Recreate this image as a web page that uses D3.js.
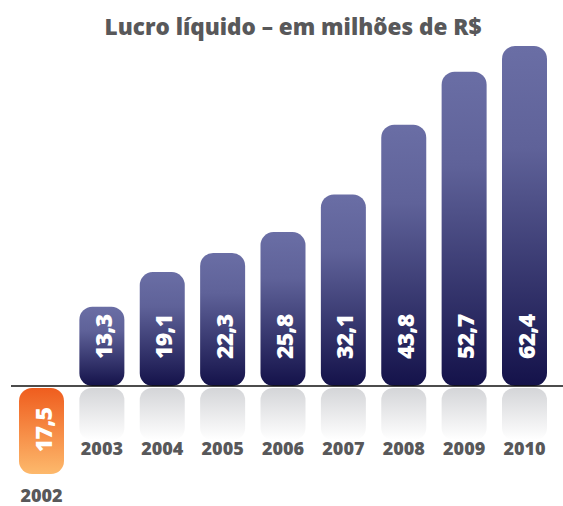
<!DOCTYPE html>
<html>
<head>
<meta charset="utf-8">
<script src="https://cdn.jsdelivr.net/npm/d3@7"></script>
<style>
  body { margin: 0; background: #fff; }
  svg text { font-family: "Open Sans", "DejaVu Sans", sans-serif; font-weight: 800; }
</style>
</head>
<body>
<script>
var years = ["2002", "2003", "2004", "2005", "2006", "2007", "2008", "2009", "2010"]
var values = [-17.5, 13.3, 19.1, 22.3, 25.8, 32.1, 43.8, 52.7, 62.4]
var labels = ["17,5", "13,3", "19,1", "22,3", "25,8", "32,1", "43,8", "52,7", "62,4"]

var w = 563, h = 506, base = 386, bw = 45

var svg = d3.select("body").append("svg")
  .attr("width", w)
  .attr("height", h)

var defs = svg.append("defs")

var blue = defs.append("linearGradient").attr("id", "blue")
  .attr("x1", 0).attr("y1", 0).attr("x2", 0).attr("y2", 1)
blue.append("stop").attr("offset", "0%").attr("stop-color", "#6a6ea5")
blue.append("stop").attr("offset", "30%").attr("stop-color", "#5f6299")
blue.append("stop").attr("offset", "100%").attr("stop-color", "#14124a")

var orange = defs.append("linearGradient").attr("id", "orange")
  .attr("x1", 0).attr("y1", 0).attr("x2", 0).attr("y2", 1)
orange.append("stop").attr("offset", "0%").attr("stop-color", "#ef5d1e")
orange.append("stop").attr("offset", "100%").attr("stop-color", "#fdb96c")

var refl = defs.append("linearGradient").attr("id", "refl")
  .attr("x1", 0).attr("y1", 0).attr("x2", 0).attr("y2", 1)
refl.append("stop").attr("offset", "0%").attr("stop-color", "#d4d5d8")
refl.append("stop").attr("offset", "100%").attr("stop-color", "#ffffff")

var x = d3.scalePoint().domain(years).range([41.5, 524.5])
// tallest bar is cut at the top, the negative one is drawn shorter
var y = d3.scaleLinear().domain([-17.5, 0, 57]).range([474, base, 46]).clamp(true)

var data = years.map(function(yr, i){ return {year: yr, v: values[i], label: labels[i]} })
var pos = data.filter(function(d){ return d.v > 0 })

svg.append("text")
  .attr("x", 293).attr("y", 35)
  .attr("text-anchor", "middle")
  .style("font-size", "22.5px")
  .style("fill", "#58585a")
  .text("Lucro líquido – em milhões de R$")

svg.selectAll(".refl")
  .data(pos).enter()
  .append("rect")
  .attr("class", "refl")
  .attr("x", function(d){ return x(d.year) - bw/2 })
  .attr("y", base + 2)
  .attr("width", bw)
  .attr("height", 52)
  .attr("rx", 12)
  .style("fill", "url(#refl)")

svg.selectAll(".bar")
  .data(data).enter()
  .append("rect")
  .attr("class", "bar")
  .attr("x", function(d){ return x(d.year) - bw/2 })
  .attr("y", function(d){ return d.v > 0 ? y(d.v) : base + 2 })
  .attr("width", bw)
  .attr("height", function(d){ return d.v > 0 ? base - y(d.v) : y(d.v) - base - 2 })
  .attr("rx", 13)
  .style("fill", function(d){ return d.v > 0 ? "url(#blue)" : "url(#orange)" })

svg.append("line")
  .attr("x1", 11).attr("x2", w)
  .attr("y1", base).attr("y2", base)
  .style("stroke", "#111")
  .style("stroke-width", 1.5)

svg.selectAll(".val")
  .data(data).enter()
  .append("text")
  .attr("class", "val")
  .attr("transform", function(d){
    var ty = d.v > 0 ? base - 27 : (base + y(d.v)) / 2
    return "translate(" + (x(d.year) + 10) + "," + ty + ") rotate(-90)"
  })
  .attr("text-anchor", function(d){ return d.v > 0 ? "start" : "middle" })
  .style("font-size", "23px")
  .style("letter-spacing", "-0.8px")
  .style("fill", "#fff")
  .text(function(d){ return d.label })

svg.selectAll(".yr")
  .data(data).enter()
  .append("text")
  .attr("class", "yr")
  .attr("x", function(d){ return x(d.year) })
  .attr("y", function(d){ return d.v > 0 ? 455 : 502 })
  .attr("text-anchor", "middle")
  .style("font-size", "18px")
  .style("fill", "#58585a")
  .text(function(d){ return d.year })
</script>
</body>
</html>
